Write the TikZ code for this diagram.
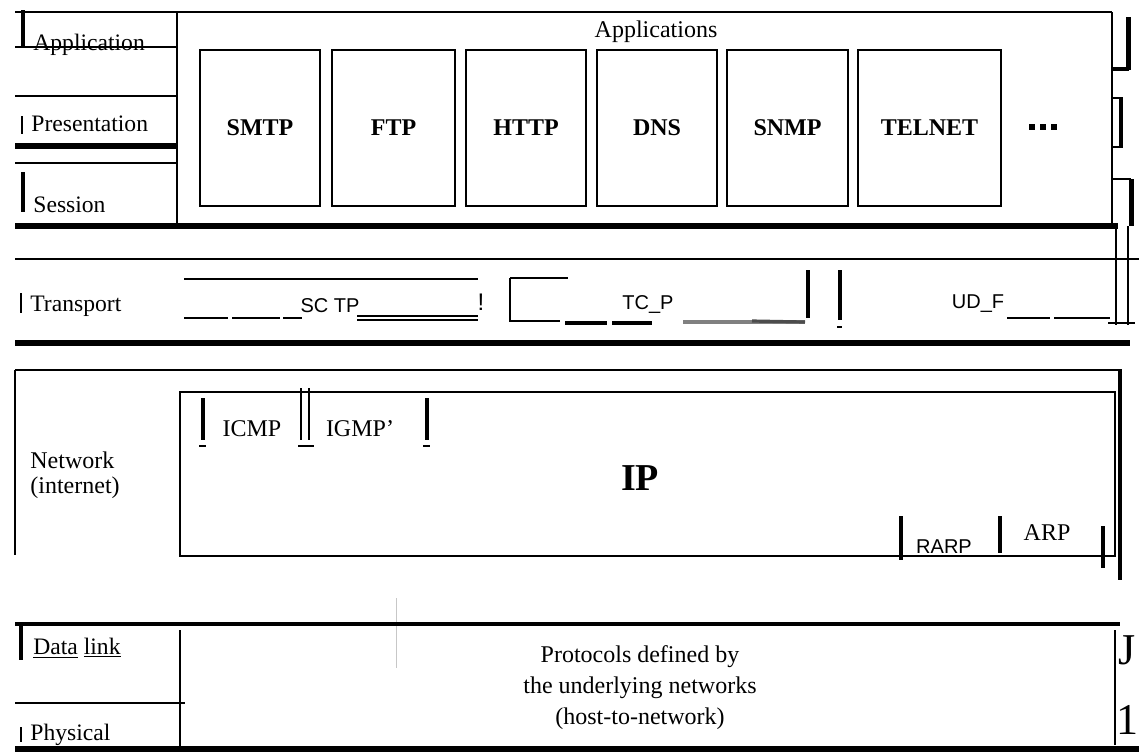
\documentclass[tikz,border=0pt]{standalone}
\usepackage{fontspec}
\setmainfont{Liberation Serif}
\newfontfamily\arialf{Liberation Sans}
\begin{document}
\begin{tikzpicture}[x=0.5pt,y=-0.5pt,
  rule/.style={line width=0.7pt},
  heavy/.style={line width=2.6pt},
  bar/.style={line width=2.2pt},
  slim/.style={line width=1.4pt},
  layer/.style={anchor=base west,inner sep=0pt,font=\fontsize{11.8}{13}\selectfont},
  appbox/.style={draw,line width=1.1pt,minimum height=78pt,inner sep=0pt,
    font=\fontsize{12}{14}\selectfont\bfseries},
  serif/.style={inner sep=0pt,font=\fontsize{12}{14}\selectfont},
  sans/.style={inner sep=0pt,font=\arialf\fontsize{10}{12}\selectfont},
  dot/.style={fill,inner sep=0pt,minimum size=3pt},
]
\useasboundingbox (0,0) rectangle (1139,751);

% ---------------- application / presentation / session ----------------
\draw[rule] (15,12) -- (1112,12);
\draw[rule] (177,12) -- (177,226);
\draw[rule] (1112,12) -- (1112,226);
\draw[rule] (15,47) -- (178,47);
\draw[rule] (15,96) -- (178,96);
\draw[heavy] (15,146) -- (178,146);
\draw[rule] (15,163) -- (178,163);
\draw[heavy] (15,226) -- (1118,226);

\draw[bar] (23,10) -- (23,48);
\node[layer] (app) at (33,50) {Application};
\draw[slim] (22,116) -- (22,134);
\node[layer] (pres) at (31,131) {Presentation};
\draw[bar] (23,172) -- (23,212);
\node[layer] (sess) at (33,212) {Session};

\node[serif] (apps) at (656,32) {Applications};
\node[appbox,minimum width=60pt]   (smtp)   at (260,128)   {SMTP};
\node[appbox,minimum width=61.5pt] (ftp)    at (393.5,128) {FTP};
\node[appbox,minimum width=60pt]   (http)   at (526,128)   {HTTP};
\node[appbox,minimum width=60pt]   (dns)    at (657,128)   {DNS};
\node[appbox,minimum width=60.5pt] (snmp)   at (787.5,128) {SNMP};
\node[appbox,minimum width=71.5pt] (telnet) at (929.5,128) {TELNET};
% the trailing ellipsis
\node[dot] (dota) at (1032,127) {};
\node[dot] (dotb) at (1043,127) {};
\node[dot] (dotc) at (1054,127) {};

% right-hand brackets
\draw[line width=2.5pt] (1128,17) -- (1128,70);
\draw[line width=1.8pt] (1112,69) -- (1129,69);
\draw[line width=1pt] (1113,98) -- (1122,98);
\draw[line width=1.8pt] (1121,97) -- (1121,148);
\draw[line width=1pt] (1113,147) -- (1122,147);
\draw[line width=1pt] (1112,179) -- (1131,179);
\draw[line width=2.5pt] (1131,179) -- (1131,226);
\draw[line width=1.3pt] (1116,226) -- (1116,325) (1128,226) -- (1128,325);
\draw[rule] (1108,323) -- (1135,323);

% ---------------- transport ----------------
\draw[rule] (15,259) -- (1139,259);
\draw[slim] (21,293) -- (21,313);
\node[layer] (trans) at (30,311) {Transport};

\draw[rule] (184,279) -- (478,279);
\draw[rule] (184,318) -- (228,318) (232,318) -- (280,318) (283,318) -- (302,318);
\node[sans] (sctp) at (330,306) {SC TP};
\draw[rule] (357,316) -- (478,316) (357,320) -- (478,320);
\node[sans,font=\arialf\fontsize{12}{14}\selectfont] (bang) at (481,302) {!};

\draw[rule] (510,278) -- (568,278);
\draw[rule] (510,278) -- (510,321) -- (560,321);
\draw[line width=2pt] (565,323) -- (607,323) (612,323) -- (652,323);
\node[sans] (tcp) at (648,304) {TC\_P};
\draw[line width=1.6pt,gray] (683,322) -- (805,322);
\draw[line width=1.6pt,black!70] (752,321) -- (805,322);
\draw[bar] (808,270) -- (808,318);
\draw[line width=2pt] (840,270) -- (840,320);
\draw[line width=1pt] (837,327) -- (842,327);

\node[sans] (udp) at (978,304) {UD\_F};
\draw[rule] (1007,318) -- (1050,318) (1054,318) -- (1110,318);

\draw[heavy] (15,343) -- (1130,343);

% ---------------- network ----------------
\draw[rule] (15,370) -- (1120,370);
\draw[rule] (15,370) -- (15,555);
\draw[line width=2.4pt] (1120,369) -- (1120,580);
\draw[rule] (180,392) rectangle (1115,556);
\node[serif,anchor=west,align=left,font=\fontsize{12}{12.5}\selectfont] (net) at (30,475) {Network\\(internet)};

\draw[bar] (203,398) -- (203,440);
\draw[rule] (199,446) -- (206,446);
\node[serif] (icmp) at (252,429) {ICMP};
\draw[line width=1.2pt] (301,388) -- (301,440) (309,388) -- (309,440);
\draw[rule] (298,446) -- (314,446);
\node[serif] (igmp) at (360,429) {IGMP'};
\draw[bar] (427,398) -- (427,440);
\draw[rule] (423,446) -- (430,446);

\node[inner sep=0pt,font=\fontsize{19}{22}\selectfont\bfseries] (ip) at (640,478) {IP};

\draw[bar] (901,516) -- (901,560);
\node[sans] (rarp) at (944,547) {RARP};
\draw[line width=1.8pt] (1000,516) -- (1000,553);
\node[serif] (arp) at (1047,533) {ARP};
\draw[bar] (1103,526) -- (1103,568);

% ---------------- data link / physical ----------------
\draw[black!22,line width=0.4pt] (396,598) -- (396,668);
\draw[line width=2pt] (15,624) -- (1120,624);
\draw[rule] (180,630) -- (180,751);
\draw[rule] (15,703) -- (185,703);
\draw[line width=2pt] (21,625) -- (21,660);
\node[layer] (dl) at (33,654) {\underline{Data} \underline{link}};
\draw[slim] (21,727) -- (21,742);
\node[layer] (phy) at (30,740) {Physical};
\node[serif,align=center,font=\fontsize{12}{15.5}\selectfont] (hostnet) at (640,688)
  {Protocols defined by\\the underlying networks\\(host-to-network)};
\draw[rule] (1115,630) -- (1115,745);
\node[serif,font=\fontsize{22}{24}\selectfont] (jmark) at (1127,650) {J};
\node[serif,font=\fontsize{22}{24}\selectfont] (onemark) at (1127,720) {1};
\draw[heavy] (15,749) -- (1139,749);
\end{tikzpicture}
\end{document}
